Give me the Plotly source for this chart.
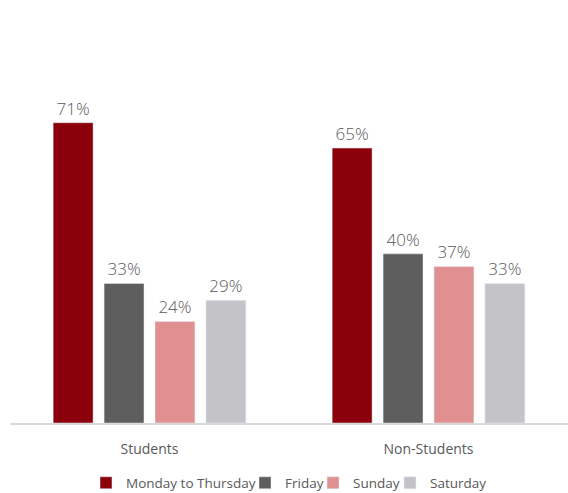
import plotly.graph_objects as go

categories = ["Students", "Non-Students"]
series_names = ["Monday to Thursday", "Friday", "Sunday", "Saturday"]
series_values = [
    [71, 65],
    [33, 40],
    [24, 37],
    [29, 33],
]
colors = ["#8B000B", "#5E5E5E", "#E09090", "#C4C3C8"]
legend_px = [86, 245, 313, 390]

FONT = "Open Sans, Noto Sans, sans-serif"
fig = go.Figure()
layout_legends = {}
for i, (name, vals, c) in enumerate(zip(series_names, series_values, colors)):
    lg = "legend" if i == 0 else f"legend{i+1}"
    fig.add_trace(go.Bar(
        x=categories, y=vals, name=name, marker_color=c,
        text=[f"{v}%" for v in vals], textposition="outside",
        textfont=dict(size=17, color="#595959", family=FONT, weight=300),
        cliponaxis=False, legend=lg,
    ))
    layout_legends[lg] = dict(
        xref="container", yref="container",
        x=legend_px[i] / 568, xanchor="left",
        y=(493 - 483) / 493, yanchor="middle",
        orientation="h", itemwidth=30,
        font=dict(size=13.5, color="#595959", family=FONT),
        bgcolor="rgba(0,0,0,0)",
    )

fig.update_layout(
    width=568, height=493,
    margin=dict(l=10, r=0, t=0, b=70),
    paper_bgcolor="white", plot_bgcolor="white",
    barmode="group", bargap=0.27, bargroupgap=0.216,
    font=dict(family=FONT, color="#595959"),
    xaxis=dict(showline=True, linecolor="#D9D9D9", linewidth=1.5,
               tickfont=dict(size=14, color="#595959"), ticks="",
               ticklabelstandoff=12, automargin=False),
    yaxis=dict(range=[0, 100], visible=False, showgrid=False),
    showlegend=True,
    **layout_legends,
)
fig.write_html("out.html")
